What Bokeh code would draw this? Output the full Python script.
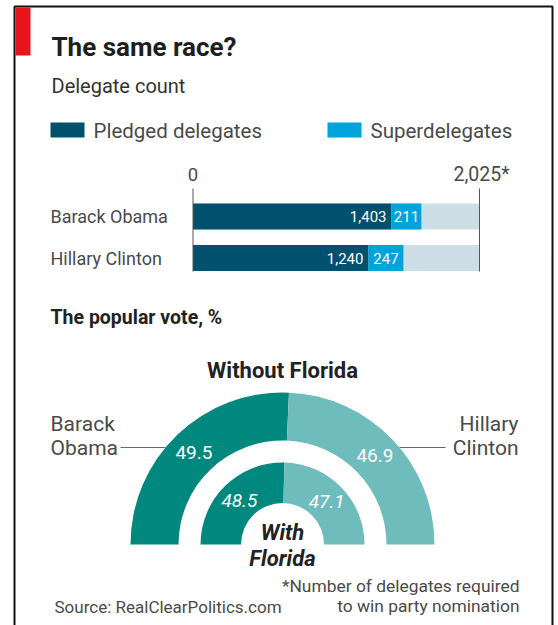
import math
from bokeh.plotting import figure
from bokeh.models import Range1d
from bokeh.core.properties import value
from bokeh.embed import file_html
from bokeh.resources import INLINE

# ---------------- data ----------------
candidates = ["Barack Obama", "Hillary Clinton"]
pledged = [1403, 1240]
superdelegates = [211, 247]
required = 2025
required_label = "2,025*"
legend_labels = ["Pledged delegates", "Superdelegates"]

pie_names = [["Barack", "Obama"], ["Hillary", "Clinton"]]
vote_without_florida = [49.5, 46.9]
vote_with_florida = [48.5, 47.1]

title = "The same race?"
subtitle = "Delegate count"
subtitle2 = "The popular vote, %"
ring_outer_title = "Without Florida"
ring_inner_title = ["With", "Florida"]
footnote = ["*Number of delegates required", "to win party nomination"]
source = "Source: RealClearPolitics.com"

# ---------------- styles ----------------
W, H = 558, 625
FONT = value("Roboto")
C_PLEDGED = "#00506e"
C_SUPER = "#00a3da"
C_BG = "#cedee6"
C_OBAMA = "#00887e"
C_CLINTON = "#6fbcbd"
C_TEXT = "#2a2a2a"
C_GREY = "#4a4a4a"


def Y(py):
    return H - py


p = figure(width=W, height=H, x_range=Range1d(0, W), y_range=Range1d(0, H),
           x_axis_type=None, y_axis_type=None, toolbar_location=None,
           output_backend="svg", min_border=0, outline_line_color=None,
           background_fill_color="white", border_fill_color="white")
p.grid.visible = False

# frame and red tag
p.line([14, 14, 552, 552], [Y(640), Y(6), Y(6), Y(640)], line_color="#111111", line_width=2)
p.quad(left=15, right=30, top=Y(7), bottom=Y(55), fill_color="#e8141c", line_color=None)


def txt(x, y, s, size, color=C_TEXT, align="left", style="normal", **kw):
    p.text(x=[x], y=[Y(y)], text=[s], text_font=FONT, text_font_size=f"{size}px",
           text_color=color, text_align=align, text_baseline="middle",
           text_font_style=style, **kw)


txt(51, 46.5, title, 26, color="#1e1e1e", style="bold")
txt(51, 85.5, subtitle, 20, color="#333333")

# legend
leg_x = [50, 327]
for lx, lab, col in zip(leg_x, legend_labels, [C_PLEDGED, C_SUPER]):
    p.quad(left=lx, right=lx + 34, top=Y(122), bottom=Y(137), fill_color=col, line_color=None)
    txt(lx + 43, 130, lab, 20.5, color=C_GREY)

# ---------------- bar chart ----------------
px0, px1 = 192.5, 479.0
upp = required / (px1 - px0)
p.extra_x_ranges = {"count": Range1d(-px0 * upp, (W - px0) * upp)}

bar_c = [216, 257.5]
bar_h = 26
yc = [Y(c) for c in bar_c]
ends = [a + b for a, b in zip(pledged, superdelegates)]

p.hbar(y=yc, left=0, right=[required] * len(candidates), height=bar_h,
       fill_color=C_BG, line_color=None, x_range_name="count")
p.hbar(y=yc, left=0, right=pledged, height=bar_h,
       fill_color=C_PLEDGED, line_color=None, x_range_name="count")
p.hbar(y=yc, left=pledged, right=ends, height=bar_h,
       fill_color=C_SUPER, line_color=None, x_range_name="count")

p.segment(x0=[0, required], x1=[0, required], y0=[Y(188)] * 2, y1=[Y(271)] * 2,
          line_color="#555555", line_width=1, x_range_name="count")
p.text(x=[0], y=[Y(174)], text=["0"], text_font=FONT,
       text_font_size="18.5px", text_color=C_GREY, text_align="center",
       text_baseline="middle", x_range_name="count")
p.text(x=[required], y=[Y(174)], text=[required_label], text_font=FONT,
       text_font_size="19.5px", text_color=C_GREY, text_align="left",
       text_baseline="middle", x_offset=-26, x_range_name="count")

p.text(x=[50] * len(candidates), y=yc, text=candidates, text_font=FONT,
       text_font_size="18px", text_color=C_GREY, text_align="left",
       text_baseline="middle")
p.text(x=pledged, y=yc, text=[f"{v:,}" for v in pledged], text_font=FONT,
       text_font_size="15px", text_color="white", text_align="right",
       text_baseline="middle", x_offset=-5, x_range_name="count")
p.text(x=[(a + b) / 2 for a, b in zip(pledged, ends)], y=yc,
       text=[f"{v:,}" for v in superdelegates], text_font=FONT,
       text_font_size="15px", text_color="white", text_align="center",
       text_baseline="middle", x_range_name="count")

# ---------------- popular vote rings ----------------
txt(50, 316.5, subtitle2, 19.5, color="#222222", style="bold")
txt(282, 370, ring_outer_title, 22, color="#222222", align="center", style="bold")

cx, cy = 282, Y(544)
rings = [(vote_without_florida, 104, 152, "normal"), (vote_with_florida, 41.5, 82, "italic")]
for votes, r_in, r_out, fstyle in rings:
    frac_o = votes[0] / sum(votes)
    split = math.pi * (1 - frac_o)
    p.annular_wedge(x=[cx, cx], y=[cy, cy], inner_radius=r_in, outer_radius=r_out,
                    start_angle=[split, 0], end_angle=[math.pi, split],
                    fill_color=[C_OBAMA, C_CLINTON], line_color=None)
    rm = (r_in + r_out) / 2
    mids = [(split + math.pi) / 2, split / 2]
    p.text(x=[cx + rm * math.cos(a) for a in mids], y=[cy + rm * math.sin(a) for a in mids],
           text=[f"{v:.1f}" for v in votes], text_font=FONT, text_font_size="19px",
           text_color="white", text_align="center", text_baseline="middle",
           text_font_style=fstyle)

txt(282, 531.5, ring_inner_title[0], 22, color="#222222", align="center", style="bold italic")
txt(282, 557.5, ring_inner_title[1], 22, color="#222222", align="center", style="bold italic")

# name labels with leader lines
txt(50, 423, pie_names[0][0], 21, color=C_GREY)
txt(50, 447, pie_names[0][1], 21, color=C_GREY)
txt(518, 423, pie_names[1][0], 21, color=C_GREY, align="right")
txt(518, 447, pie_names[1][1], 21, color=C_GREY, align="right")
dy = 544 - 447
edge = math.sqrt(152 ** 2 - dy ** 2)
p.segment(x0=[120, cx + edge], x1=[cx - edge, 445], y0=[Y(447)] * 2, y1=[Y(447)] * 2,
          line_color="#666666", line_width=1)

# footnotes
txt(519, 585, footnote[0], 17.4, color=C_GREY, align="right")
txt(519, 605.5, footnote[1], 17.4, color=C_GREY, align="right")
txt(54, 606, source, 17, color=C_GREY)

open("out.html", "w").write(file_html(p, INLINE))
